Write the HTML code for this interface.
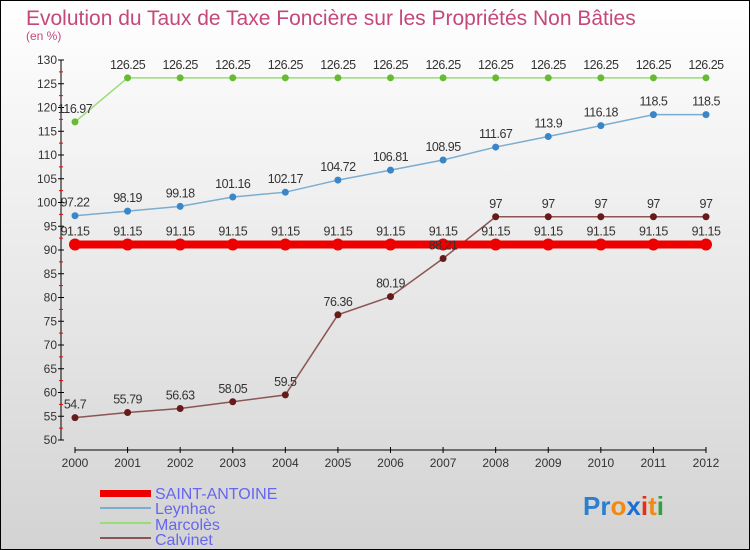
<!DOCTYPE html>
<html><head><meta charset="utf-8"><style>
body{margin:0;font-family:"Liberation Sans",sans-serif}
</style></head><body>
<svg id="c" width="750" height="550" xmlns="http://www.w3.org/2000/svg" style="display:block">
<defs><linearGradient id="bg" x1="0" y1="0" x2="0" y2="1"><stop offset="0" stop-color="#ffffff"/><stop offset="1" stop-color="#d3d3d3"/></linearGradient></defs>
<rect x="0.5" y="0.5" width="749" height="549" fill="url(#bg)" stroke="#000"/>
<text x="26" y="25" font-size="21" fill="#c4487a">Evolution du Taux de Taxe Foncière sur les Propriétés Non Bâties</text>
<text x="26" y="40" font-size="12" fill="#c4487a">(en %)</text>
<g id="axes"></g><g id="series"></g><g id="labels"></g>
<g>
<rect x="100" y="490" width="51" height="7" fill="#e00"/>
<text x="155" y="499" font-size="16" fill="#6666ee">SAINT-ANTOINE</text>
<line x1="100" y1="508" x2="151" y2="508" stroke="#7aadd0" stroke-width="2"/>
<text x="155" y="514" font-size="16" fill="#6666ee">Leynhac</text>
<line x1="100" y1="523" x2="151" y2="523" stroke="#99dd77" stroke-width="2"/>
<text x="155" y="530" font-size="16" fill="#6666ee">Marcolès</text>
<line x1="100" y1="538" x2="151" y2="538" stroke="#8b5555" stroke-width="2"/>
<text x="155" y="545" font-size="16" fill="#6666ee">Calvinet</text>
</g>
<text x="583" y="515" font-size="26" font-weight="bold"><tspan fill="#2a7fd0">Pr</tspan><tspan fill="#f08a10">o</tspan><tspan fill="#1a6fd0">x</tspan><tspan fill="#e83010">i</tspan><tspan fill="#f08a10">t</tspan><tspan fill="#30a040">i</tspan></text>
</svg>
<script>
const years=[2000,2001,2002,2003,2004,2005,2006,2007,2008,2009,2010,2011,2012];
const yTicks=[50,55,60,65,70,75,80,85,90,95,100,105,110,115,120,125,130];
const saintAntoine=[91.15,91.15,91.15,91.15,91.15,91.15,91.15,91.15,91.15,91.15,91.15,91.15,91.15];
const leynhac=[97.22,98.19,99.18,101.16,102.17,104.72,106.81,108.95,111.67,113.9,116.18,118.5,118.5];
const marcoles=[116.97,126.25,126.25,126.25,126.25,126.25,126.25,126.25,126.25,126.25,126.25,126.25,126.25];
const calvinet=[54.7,55.79,56.63,58.05,59.5,76.36,80.19,88.21,97,97,97,97,97];
const NS="http://www.w3.org/2000/svg";
const X=i=>75+i*(706-75)/(years.length-1);
const Y=v=>440-(v-50)*380/80;
function mk(t,a,p){const e=document.createElementNS(NS,t);for(const k in a)e.setAttribute(k,a[k]);p.appendChild(e);return e;}
const ax=document.getElementById('axes');
let l=mk('line',{x1:61,y1:Y(130),x2:61,y2:Y(50),stroke:'#000'},ax);


yTicks.forEach(v=>{
 const t=mk('line',{x1:58,x2:64,y1:Y(v),y2:Y(v),stroke:'#000'},ax);
 
 
 const r=mk('line',{x1:59,x2:63,y1:Y(v+2.5),y2:Y(v+2.5),stroke:'#e00'},ax);
 if(v===130) r.remove();
 const s=mk('text',{x:57,y:Y(v)+4,'font-size':12,'text-anchor':'end',fill:'#333'},ax);
 s.textContent=v;
 
 
});
l=mk('line',{x1:75,y1:450,x2:706,y2:450,stroke:'#000'},ax);


years.forEach((y,i)=>{
 mk('line',{x1:X(i),x2:X(i),y1:447,y2:453,stroke:'#000'},ax);
 const s=mk('text',{x:X(i),y:467,'font-size':12,'text-anchor':'middle',fill:'#333'},ax);
 s.textContent=y;
 
 
});
const sg=document.getElementById('series');
const lg=document.getElementById('labels');
function draw(vals,name,col,dot,w,r){
 const g=mk('g',{},sg);
 
 
 mk('polyline',{points:vals.map((v,i)=>X(i)+','+Y(v)).join(' '),fill:'none',stroke:col,'stroke-width':w},g);
 vals.forEach((v,i)=>{
  const c=mk('circle',{cx:X(i),cy:Y(v),r:r,fill:dot},g);
  
  
  const t=mk('text',{x:X(i),y:Y(v)-9,'font-size':12.5,'text-anchor':'middle',fill:'#333','letter-spacing':'-0.5'},lg);
  t.textContent=String(v);
  
  
 });
}
draw(leynhac,'leynhac','#7aadd0','#3a86c8',1.5,3.5);
draw(marcoles,'marcoles','#99dd77','#66bb33',1.5,3.5);
draw(calvinet,'calvinet','#8b5555','#661a1a',1.5,3.5);
draw(saintAntoine,'saint-antoine','#ee0000','#ee0000',8,6);
</script>
</body></html>
